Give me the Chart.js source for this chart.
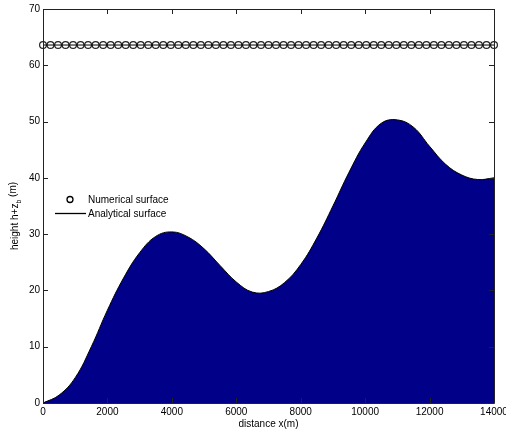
<!DOCTYPE html>
<html><head><meta charset="utf-8">
<script src="https://cdn.jsdelivr.net/npm/chart.js@4"></script>
<style>html,body{margin:0;padding:0;background:#fff}#wrap{width:506px;height:432px}</style>
</head><body><div id="wrap"><canvas id="c" width="506" height="432"></canvas></div>
<script>
const bedX = [0,500,1000,1500,2000,2500,3000,3500,4000,4500,5000,5500,6000,6500,7000,7500,8000,8500,9000,9500,10000,10500,11000,11500,12000,12500,13000,13500,14000];
const bedH = [0,1.4,4.5,10.0,16.5,22.2,26.7,29.6,30.4,29.5,27.4,24.4,21.5,19.7,19.8,21.4,24.6,29.3,35.0,41.0,46.2,49.7,50.3,49.0,45.6,42.4,40.5,39.7,40.0];
const numX = [0,233,467,700,933,1167,1400,1633,1867,2100,2333,2567,2800,3033,3267,3500,3733,3967,4200,4433,4667,4900,5133,5367,5600,5833,6067,6300,6533,6767,7000,7233,7467,7700,7933,8167,8400,8633,8867,9100,9333,9567,9800,10033,10267,10500,10733,10967,11200,11433,11667,11900,12133,12367,12600,12833,13067,13300,13533,13767,14000];
const numH = [63.6,63.6,63.6,63.6,63.6,63.6,63.6,63.6,63.6,63.6,63.6,63.6,63.6,63.6,63.6,63.6,63.6,63.6,63.6,63.6,63.6,63.6,63.6,63.6,63.6,63.6,63.6,63.6,63.6,63.6,63.6,63.6,63.6,63.6,63.6,63.6,63.6,63.6,63.6,63.6,63.6,63.6,63.6,63.6,63.6,63.6,63.6,63.6,63.6,63.6,63.6,63.6,63.6,63.6,63.6,63.6,63.6,63.6,63.6,63.6,63.6];
const anaX = [0,14000];
const anaH = [63.6,63.6];
const xTicks = [0,2000,4000,6000,8000,10000,12000,14000];
const yTicks = [0,10,20,30,40,50,60,70];
const legendLabels = ['Numerical surface','Analytical surface'];
const xTitle = 'distance x(m)';
const yTitleMain = 'height h+z';
const yTitleSub = 'b';
const yTitleEnd = ' (m)';

const FONT = "'Liberation Sans', Arial, sans-serif";
Chart.defaults.font.family = FONT;
Chart.defaults.color = '#000';

const toPts = (xs, ys) => xs.map((x, i) => ({x: x, y: ys[i]}));

const decor = {
  id: 'decor',
  afterDraw(chart) {
    const ctx = chart.ctx, a = chart.chartArea;
    const xs = chart.scales.x, ys = chart.scales.y;
    ctx.save();
    ctx.strokeStyle = '#222';
    ctx.lineWidth = 1;
    ctx.beginPath();
    ctx.rect(Math.round(a.left) + 0.5, Math.round(a.top) + 0.5, Math.round(a.right - a.left), Math.round(a.bottom - a.top));
    ctx.stroke();
    ctx.beginPath();
    const tl = 5;
    xTicks.forEach(v => {
      const px = Math.round(xs.getPixelForValue(v)) + 0.5;
      ctx.moveTo(px, a.bottom); ctx.lineTo(px, a.bottom - tl);
      ctx.moveTo(px, a.top); ctx.lineTo(px, a.top + tl);
    });
    yTicks.forEach(v => {
      const py = Math.round(ys.getPixelForValue(v)) + 0.5;
      ctx.moveTo(a.left, py); ctx.lineTo(a.left + tl, py);
      ctx.moveTo(a.right, py); ctx.lineTo(a.right - tl, py);
    });
    ctx.stroke();
    // legend
    ctx.fillStyle = '#000';
    ctx.font = '10px ' + FONT;
    ctx.textBaseline = 'middle';
    ctx.textAlign = 'left';
    ctx.beginPath();
    ctx.arc(70, 199.5, 3, 0, Math.PI * 2);
    ctx.lineWidth = 1.3;
    ctx.strokeStyle = '#000';
    ctx.stroke();
    ctx.fillText(legendLabels[0], 88, 200);
    ctx.beginPath();
    ctx.moveTo(55, 213.5); ctx.lineTo(86, 213.5);
    ctx.lineWidth = 1.3;
    ctx.stroke();
    ctx.fillText(legendLabels[1], 88, 214);
    // y title
    ctx.translate(15, 216);
    ctx.rotate(-Math.PI / 2);
    ctx.font = '10px ' + FONT;
    const w1 = ctx.measureText(yTitleMain).width;
    ctx.font = '7px ' + FONT;
    const w2 = ctx.measureText(yTitleSub).width;
    ctx.font = '10px ' + FONT;
    const w3 = ctx.measureText(yTitleEnd).width;
    let x0 = -(w1 + w2 + w3) / 2;
    ctx.textAlign = 'left';
    ctx.fillText(yTitleMain, x0, 0);
    ctx.font = '7px ' + FONT;
    ctx.fillText(yTitleSub, x0 + w1, 4);
    ctx.font = '10px ' + FONT;
    ctx.fillText(yTitleEnd, x0 + w1 + w2, -2);
    ctx.restore();
  }
};

new Chart(document.getElementById('c'), {
  type: 'scatter',
  data: {
    datasets: [
      {
        label: 'bed',
        data: toPts(bedX, bedH),
        showLine: true,
        fill: 'origin',
        backgroundColor: '#000088',
        borderColor: '#000',
        borderWidth: 1,
        pointRadius: 0,
        tension: 0.4
      },
      {
        label: legendLabels[1],
        data: toPts(anaX, anaH),
        showLine: true,
        fill: false,
        borderColor: '#000',
        borderWidth: 1,
        pointRadius: 0
      },
      {
        label: legendLabels[0],
        data: toPts(numX, numH),
        showLine: false,
        pointStyle: 'circle',
        pointRadius: 3.4,
        pointBorderWidth: 1.2,
        pointBorderColor: '#222',
        pointBackgroundColor: 'rgba(255,255,255,0)',
        clip: false
      }
    ]
  },
  options: {
    responsive: false,
    animation: false,
    devicePixelRatio: 1,
    layout: {padding: {left: 0, top: 9, right: 12, bottom: 0}},
    plugins: {legend: {display: false}, tooltip: {enabled: false}},
    scales: {
      x: {
        type: 'linear', min: 0, max: 14000,
        afterBuildTicks: s => { s.ticks = xTicks.map(v => ({value: v})); },
        ticks: {font: {size: 10}, color: '#000', padding: 3, maxRotation: 0, autoSkip: false, callback: v => String(v)},
        grid: {display: false, drawTicks: false},
        border: {display: false},
        title: {display: true, text: xTitle, font: {size: 10}, color: '#000', padding: {top: 0, bottom: 2}},
        afterFit: s => { s.height = 29; s.paddingLeft = 0; s.paddingRight = 0; }
      },
      y: {
        type: 'linear', min: 0, max: 70,
        afterBuildTicks: s => { s.ticks = yTicks.map(v => ({value: v})); },
        ticks: {font: {size: 10}, color: '#000', padding: 3, callback: v => String(v)},
        grid: {display: false, drawTicks: false},
        border: {display: false},
        afterFit: s => { s.width = 43; s.paddingTop = 0; s.paddingBottom = 0; }
      }
    }
  },
  plugins: [decor]
});
</script>
</body></html>
